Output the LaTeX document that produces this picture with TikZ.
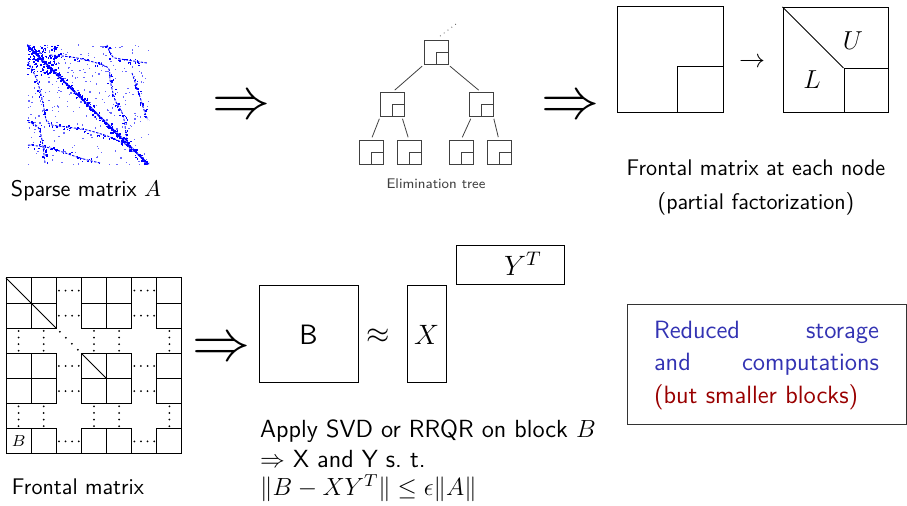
\RequirePackage{fix-cm}
\documentclass[tikz,border=0pt]{standalone}
\usepackage{amsmath}
\usetikzlibrary{positioning}

\definecolor{sblue}{RGB}{51,51,179}
\definecolor{dred}{RGB}{153,0,0}

\tikzset{
  box/.style={draw, line width=0.5pt, inner sep=0pt},
  tnode/.style={draw=black!75, line width=0.4pt, minimum size=12pt, inner sep=0pt,
    path picture={\draw[black!75] (path picture bounding box.south east) rectangle (path picture bounding box.center);}},
  tedge/.style={draw=black!75, line width=0.4pt, shorten <=1pt, shorten >=1.5pt},
  txt/.style={font=\sffamily\fontsize{11.3}{13}\selectfont},
  bigtxt/.style={font=\sffamily\fontsize{12.4}{14}\selectfont},
  impl/.style={font=\fontsize{29}{30}\selectfont, inner sep=0pt},
}

\begin{document}
\begin{tikzpicture}[x=0.5pt, y=-0.5pt, line width=0.5pt]
	\useasboundingbox (0,0) rectangle (907,506);
	% sparse matrix A
	\begin{scope}
		\clip (27,44) rectangle (149,165);
		\pgfmathsetseed{11}
		% scattered entries
		\foreach \i in {1,...,300}
			\fill[blue!60] ({27+122*rnd},{44+121*rnd}) rectangle ++(1.3,1.3);
		% dense corner
		\foreach \i in {1,...,110}
			\fill[blue] ({27+32*rnd},{44+30*rnd}) rectangle ++(1.6,1.6);
		% fronts along the diagonal and the off-diagonal curves
		\foreach \ax/\ay/\bx/\by/\n in {28/46/148/164/240,
				50/55/77/58/10, 77/58/107/67/10, 107/67/110/80/6, 110/80/115/100/8, 115/100/123/115/8, 123/115/127/140/10, 127/140/130/150/5,
				28/62/37/80/8, 37/80/43/103/10, 43/103/48/123/8, 48/123/67/127/8, 67/127/87/130/8, 87/130/110/137/10, 110/137/127/145/8,
				107/45/113/57/6, 113/57/127/60/6, 127/60/147/63/8,
				132/73/140/97/10, 140/97/145/113/6, 145/113/148/120/4,
				28/122/38/127/5, 38/127/42/140/6, 42/140/45/163/10,
				28/145/50/148/10, 50/148/80/158/12, 80/158/100/163/8}{
			\foreach \j in {1,...,\n}{
				\pgfmathsetmacro\t{rnd}
				\fill[blue] ({\ax+(\bx-\ax)*\t+3*rand},{\ay+(\by-\ay)*\t+3*rand}) rectangle ++(1.5,1.5);
			}
		}
		\draw[blue, line width=0.9pt, dash pattern=on 1.5pt off 0.4pt] (27,45) -- (149,165);
		\begin{scope}[blue, line width=0.45pt, dash pattern=on 1.2pt off 0.7pt]
			\draw plot[smooth] coordinates {(50,55) (77,58) (107,67) (110,80) (115,100) (123,115) (127,140) (130,150)};
			\draw plot[smooth] coordinates {(28,62) (37,80) (43,103) (48,123) (67,127) (87,130) (110,137) (127,145)};
			\draw plot[smooth] coordinates {(107,45) (113,57) (127,60) (147,63)};
			\draw plot[smooth] coordinates {(132,73) (140,97) (145,113) (148,120)};
			\draw plot[smooth] coordinates {(28,122) (38,127) (42,140) (45,163)};
			\draw plot[smooth] coordinates {(28,145) (50,148) (80,158) (100,163)};
		\end{scope}
	\end{scope}
	\node[txt] (lblA) at (86,191) {Sparse matrix $A$};

	% implication arrows
	\node[impl] (imp1) at (242,108) {$\Rightarrow$};
	\node[impl] (imp2) at (570,108) {$\Rightarrow$};
	\node[impl] (imp3) at (221,350) {$\Rightarrow$};

	% elimination tree
	\node[tnode] (root) at (436,52.5) {};
	\node[tnode] (lft) at (392.5,104.5) {};
	\node[tnode] (rgt) at (481,104.5) {};
	\node[tnode] (ll) at (371,152.5) {};
	\node[tnode] (lr) at (409,152.5) {};
	\node[tnode] (rl) at (461,152.5) {};
	\node[tnode] (rr) at (499,152.5) {};
	\coordinate (up) at (456,24);
	\draw[black!75, line width=0.4pt, dotted] ([xshift=2pt,yshift=2pt]root.north) -- (up);
	\path[tedge] (root.south west) -- (lft.north);
	\path[tedge] (root.south east) -- (rgt.north);
	\path[tedge] (lft.south west) -- (ll.north);
	\path[tedge] ([xshift=-1.5pt]lft.south east) -- (lr.north);
	\path[tedge] ([xshift=1.5pt]rgt.south west) -- (rl.north);
	\path[tedge] (rgt.south east) -- (rr.north);
	\node[font=\sffamily\fontsize{7}{8}\selectfont, text=black!75] (lblT) at (436,184) {Elimination tree};

	% frontal matrix before and after partial factorization
	\node[box, minimum size=53pt] (fa) at (670,60) {};
	\node[box, minimum size=23pt, anchor=south east] (fac) at (fa.south east) {};
	\node[font=\fontsize{13}{15}\selectfont] (to) at (752,63) {$\rightarrow$};
	\node[box, minimum size=52.5pt] (fb) at (835.5,60) {};
	\node[box, minimum size=22pt, anchor=south east] (fbc) at (fb.south east) {};
	\draw (fb.north west) -- (fbc.north west);
	\node[font=\fontsize{13}{15}\selectfont] (fU) at (853,41) {$U$};
	\node[font=\fontsize{13}{15}\selectfont] (fL) at (812,80) {$L$};
	\node[txt] (lblF) at (756,168) {Frontal matrix at each node};
	\node[txt, below=1pt of lblF] (lblP) {(partial factorization)};

	% blocked frontal matrix
	\def\cs{25.14}
	\def\ox{6}
	\def\oy{278}
	\draw (\ox,\oy) rectangle ++(7*\cs,7*\cs);
	\foreach \r in {0,1,3,4,6}
		\foreach \c in {0,1,3,4,6}
			\draw (\ox+\c*\cs,\oy+\r*\cs) rectangle ++(\cs,\cs);
	% dots in the skipped rows and columns
	\foreach \r in {0,1,3,4,6}
		\foreach \c in {2,5}
			\foreach \k in {-1.5,-0.5,0.5,1.5}
				\fill ({\ox+(\c+0.5)*\cs+6.6*\k},{\oy+(\r+0.5)*\cs}) circle (0.5pt);
	\foreach \c in {0,1,3,4,6}
		\foreach \r in {2,5}
			\foreach \k in {-1.5,-0.5,0.5,1.5}
				\fill ({\ox+(\c+0.5)*\cs},{\oy+(\r+0.5)*\cs+6.6*\k}) circle (0.5pt);
	\foreach \k in {-1.5,-0.5,0.5,1.5}
		\fill ({\ox+2.5*\cs+6*\k},{\oy+2.5*\cs+6*\k}) circle (0.5pt);
	\draw (\ox,\oy) -- ++(2*\cs,2*\cs);
	\draw (\ox+3*\cs,\oy+3*\cs) -- ++(\cs,\cs);
	\node[font=\fontsize{8}{9}\selectfont] (cB) at (\ox+0.5*\cs,\oy+6.5*\cs) {$B$};
	\node[txt] (lblM) at (78,487) {Frontal matrix};

	% low-rank approximation of a block
	\node[box, minimum width=49.5pt, minimum height=48.5pt, font=\sffamily\fontsize{14}{16}\selectfont] (blkB) at (308.5,334.5) {B};
	\node[font=\fontsize{15}{18}\selectfont] (apx) at (378,336) {$\approx$};
	\node[box, minimum width=19.5pt, minimum height=48.5pt, font=\fontsize{14}{16}\selectfont] (blkX) at (426.5,334.5) {$X$};
	\node[box, minimum width=54pt, minimum height=19.5pt] (blkY) at (510,265.5) {};
	\node[font=\fontsize{14}{16}\selectfont] (lblY) at (523,264) {$Y^T$};
	\node[bigtxt, anchor=west] (ln1) at (253,431) {Apply SVD or RRQR on block $B$};
	\node[bigtxt, anchor=west] (ln2) at (253,459) {$\Rightarrow$ X and Y s.~t.};
	\node[bigtxt, anchor=west] (ln3) at (253,488) {$\|B-XY^T\|\leq\epsilon\|A\|$};

	% conclusion
	\node[draw=black!80, line width=0.5pt, minimum width=139.5pt, minimum height=60pt, text width=112.5pt, align=left,
		font=\sffamily\fontsize{12.5}{16.25}\selectfont] (note) at (766.5,365)
		{\color{sblue}Reduced\hfill storage\\and\hfill computations\\\color{dred}(but smaller blocks)};
\end{tikzpicture}
\end{document}
